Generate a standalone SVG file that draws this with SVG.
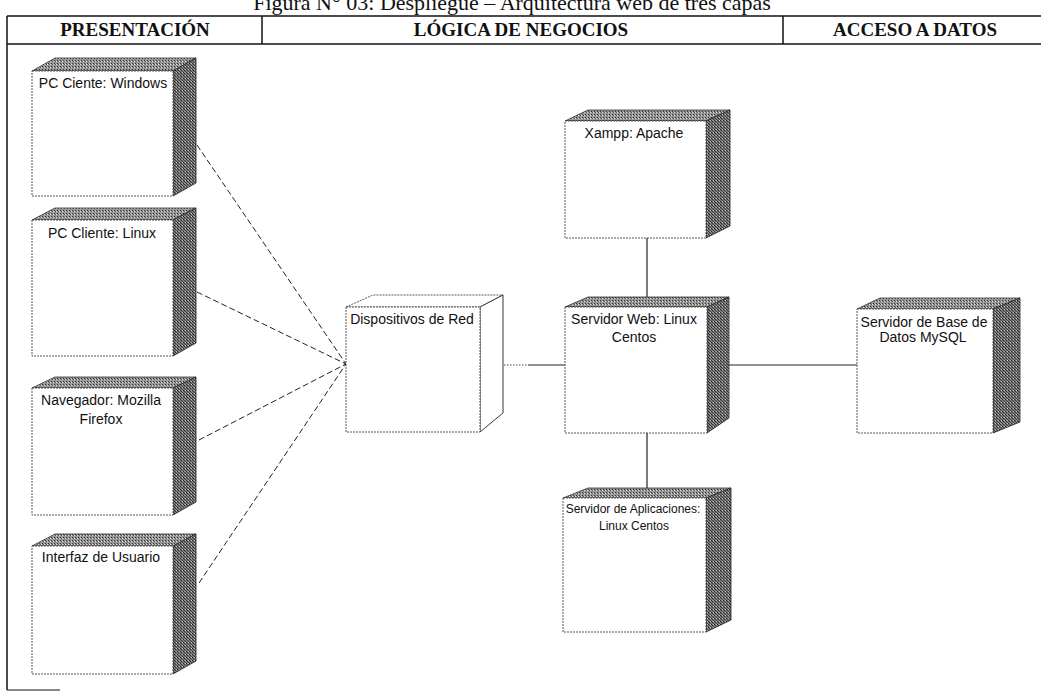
<svg xmlns="http://www.w3.org/2000/svg" width="1041" height="692" viewBox="0 0 1041 692">
<style>
.frame{stroke:#111;stroke-width:1.5;fill:none}
.hdr{font-family:"Liberation Serif","Times New Roman",serif;font-weight:bold;font-size:19px;fill:#111;text-anchor:middle}
.title{font-family:"Liberation Serif","Times New Roman",serif;font-size:22px;fill:#111;text-anchor:middle}
.lbl{font-family:"Liberation Sans",Arial,sans-serif;font-size:14px;fill:#111;text-anchor:middle}
.lbls{font-family:"Liberation Sans",Arial,sans-serif;font-size:12px;fill:#111;text-anchor:middle}
.front{fill:#fff;stroke:#444;stroke-width:0.9;stroke-dasharray:2 1}
.top{fill:url(#dithL);stroke:#333;stroke-width:0.8}
.side{fill:url(#dithD);stroke:#222;stroke-width:0.8}
.wtop{fill:#fff;stroke:#333;stroke-width:0.8;stroke-dasharray:2 1}
.wside{fill:#fff;stroke:#222;stroke-width:0.9}
.dash{stroke:#222;stroke-width:1;stroke-dasharray:6 3;fill:none}
.solid{stroke:#222;stroke-width:1.2;fill:none}
.dot{stroke:#444;stroke-width:1;stroke-dasharray:1.5 1.5;fill:none}
</style>
<defs>
<pattern id="dithD" width="3" height="3" patternUnits="userSpaceOnUse">
<rect width="3" height="3" fill="#7a7a7a"/>
<rect x="0" y="0" width="1" height="1" fill="#222"/>
<rect x="1" y="1" width="1" height="1" fill="#333"/>
<rect x="2" y="2" width="1" height="1" fill="#444"/>
<rect x="2" y="0" width="1" height="1" fill="#bbb"/>
</pattern>
<pattern id="dithL" width="3" height="3" patternUnits="userSpaceOnUse">
<rect width="3" height="3" fill="#9a9a9a"/>
<rect x="0" y="0" width="1" height="1" fill="#333"/>
<rect x="1" y="1" width="1" height="1" fill="#555"/>
<rect x="2" y="1" width="1" height="1" fill="#ddd"/>
</pattern>
</defs>
<rect width="1041" height="692" fill="#fff"/>

<g id="frame">
<text class="title" x="512" y="10">Figura N° 03: Despliegue – Arquitectura web de tres capas</text>
<line class="frame" x1="7" y1="16" x2="1041" y2="16"/>
<line class="frame" x1="7" y1="44" x2="1041" y2="44"/>
<line class="frame" x1="7" y1="16" x2="7" y2="690"/>
<line class="frame" x1="262" y1="16" x2="262" y2="44"/>
<line class="frame" x1="783" y1="16" x2="783" y2="44"/>
<line class="frame" x1="7" y1="690" x2="60" y2="690" style="stroke-width:1"/>
<text class="hdr" x="135" y="36">PRESENTACIÓN</text>
<text class="hdr" x="521" y="36">LÓGICA DE NEGOCIOS</text>
<text class="hdr" x="915" y="36">ACCESO A DATOS</text>
</g>

<g id="connectors">
<line class="dash" x1="197" y1="145" x2="346" y2="364"/>
<line class="dash" x1="197" y1="292" x2="346" y2="364"/>
<line class="dash" x1="199" y1="440" x2="346" y2="364"/>
<line class="dash" x1="199" y1="583" x2="346" y2="364"/>
<line class="dot" x1="492" y1="365" x2="528" y2="365"/>
<line class="solid" x1="528" y1="365" x2="565" y2="365"/>
<line class="solid" x1="647" y1="238" x2="647" y2="297"/>
<line class="solid" x1="647" y1="433" x2="647" y2="488"/>
<line class="solid" x1="729" y1="365" x2="857" y2="365"/>
</g>

<g id="node-windows">
<polygon class="top" points="32,71 55,58 196,58 173,71"/>
<polygon class="side" points="173,71 196,58 196,183 173,196"/>
<rect class="front" x="32" y="71" width="141" height="125"/>
<text class="lbl" x="103" y="88">PC Ciente: Windows</text>
</g>

<g id="node-linux">
<polygon class="top" points="32,220 55,208 196,208 173,220"/>
<polygon class="side" points="173,220 196,208 196,343 173,356"/>
<rect class="front" x="32" y="220" width="141" height="136"/>
<text class="lbl" x="102" y="238">PC Cliente: Linux</text>
</g>

<g id="node-navegador">
<polygon class="top" points="32,388 55,377 196,377 173,388"/>
<polygon class="side" points="173,388 196,377 196,502 173,515"/>
<rect class="front" x="32" y="388" width="141" height="127"/>
<text class="lbl" x="101" y="405">Navegador: Mozilla</text>
<text class="lbl" x="101" y="424">Firefox</text>
</g>

<g id="node-interfaz">
<polygon class="top" points="32,546 55,534 196,534 173,546"/>
<polygon class="side" points="173,546 196,534 196,661 173,674"/>
<rect class="front" x="32" y="546" width="141" height="128"/>
<text class="lbl" x="101" y="562">Interfaz de Usuario</text>
</g>

<g id="node-dispositivos">
<polygon class="wtop" points="346,307 373,295 503,295 480,307"/>
<polygon class="wside" points="480,307 503,295 503,413 480,432"/>
<rect class="front" x="346" y="307" width="134" height="125"/>
<text class="lbl" x="412" y="324">Dispositivos de Red</text>
</g>

<g id="node-xampp">
<polygon class="top" points="565,121 588,110 730,110 706,121"/>
<polygon class="side" points="706,121 730,110 730,226 706,238"/>
<rect class="front" x="565" y="121" width="141" height="117"/>
<text class="lbl" x="634" y="138">Xampp: Apache</text>
</g>

<g id="node-web">
<polygon class="top" points="565,307 588,297 729,297 707,307"/>
<polygon class="side" points="707,307 729,297 729,418 707,433"/>
<rect class="front" x="565" y="307" width="142" height="126"/>
<text class="lbl" x="634" y="324">Servidor Web: Linux</text>
<text class="lbl" x="634" y="342">Centos</text>
</g>

<g id="node-aplicaciones">
<polygon class="top" points="563,498 588,488 731,488 706,498"/>
<polygon class="side" points="706,498 731,488 731,620 706,632"/>
<rect class="front" x="563" y="498" width="143" height="134"/>
<text class="lbls" x="633" y="513">Servidor de Aplicaciones:</text>
<text class="lbls" x="634" y="530">Linux Centos</text>
</g>

<g id="node-mysql">
<polygon class="top" points="857,309 880,298 1020,298 993,309"/>
<polygon class="side" points="993,309 1020,298 1020,422 993,433"/>
<rect class="front" x="857" y="309" width="136" height="124"/>
<text class="lbl" x="924" y="327">Servidor de Base de</text>
<text class="lbl" x="923" y="342">Datos MySQL</text>
</g>
</svg>
